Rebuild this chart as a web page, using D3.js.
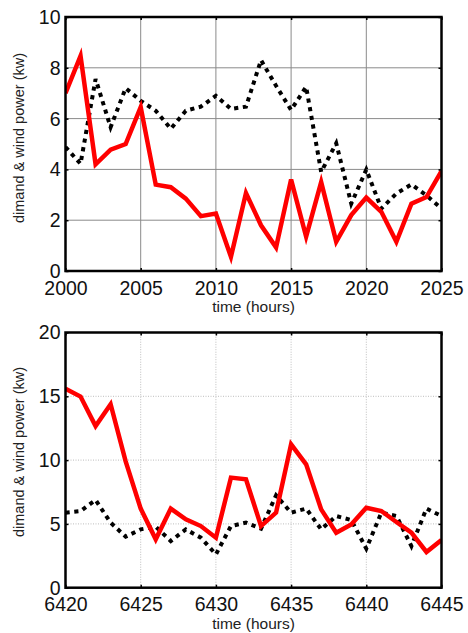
<!DOCTYPE html>
<html><head><meta charset="utf-8">
<script src="https://cdn.jsdelivr.net/npm/d3@7"></script>
<style>html,body{margin:0;padding:0;background:#fff;}svg{display:block;font-family:"Liberation Sans",Arial,sans-serif;}</style>
</head><body>
<svg id="c" width="468" height="633"></svg>
<script>
// ---- data ----
const hoursTop = d3.range(2000, 2026);
const demandTop = [7.0,8.47,4.2,4.78,5.0,6.45,3.4,3.3,2.85,2.16,2.26,0.56,3.07,1.8,0.93,3.6,1.35,3.5,1.15,2.2,2.89,2.33,1.15,2.65,2.91,3.93];
const windTop = [4.88,4.22,7.56,5.66,7.2,6.7,6.31,5.6,6.31,6.47,6.9,6.38,6.47,8.3,7.29,6.34,7.25,3.9,5.03,2.65,3.99,2.46,3.05,3.41,2.98,2.46];
const xTicksTop = [2000,2005,2010,2015,2020,2025];
const yTicksTop = [0,2,4,6,8,10];

const hoursBot = d3.range(6420, 6446);
const demandBot = [15.6,14.98,12.67,14.38,9.9,6.2,3.79,6.2,5.36,4.83,3.92,8.63,8.5,4.83,5.88,11.24,9.67,6.14,4.31,4.96,6.27,6.01,5.15,4.31,2.8,3.74];
const windBot = [5.88,6.0,6.87,5.1,4.0,4.57,4.78,3.66,4.57,3.92,2.61,4.83,5.1,4.63,7.24,5.88,6.2,4.57,5.62,5.3,3.06,5.88,5.62,3.26,6.2,5.62];
const xTicksBot = [6420,6425,6430,6435,6440,6445];
const yTicksBot = [0,5,10,15,20];

const yLabel = "dimand & wind power (kw)";
const xLabel = "time (hours)";

const svg = d3.select("#c");

function panel(cfg){
  const {x0,x1,y0,y1,xDom,yDom,xTicks,yTicks,hours,demand,wind,gridStyle,labelY} = cfg;
  const x = d3.scaleLinear().domain(xDom).range([x0,x1]);
  const y = d3.scaleLinear().domain(yDom).range([y0,y1]);
  const g = svg.append("g");
  // grid
  const gs = gridStyle==="solid" ? {c:"#8a8a8a",d:null,w:1} : {c:"#bdbdbd",d:"1,1.5",w:1};
  g.append("g").selectAll("line").data(xTicks.slice(1,-1)).join("line")
    .attr("x1",d=>x(d)).attr("x2",d=>x(d)).attr("y1",y0).attr("y2",y1)
    .attr("stroke",gs.c).attr("stroke-width",gs.w).attr("stroke-dasharray",gs.d);
  g.append("g").selectAll("line").data(yTicks.slice(1,-1)).join("line")
    .attr("y1",d=>y(d)).attr("y2",d=>y(d)).attr("x1",x0).attr("x2",x1)
    .attr("stroke",gs.c).attr("stroke-width",gs.w).attr("stroke-dasharray",gs.d);
  // clip
  const id = "clip"+Math.round(y0);
  svg.append("clipPath").attr("id",id).append("rect").attr("x",x0).attr("y",y1).attr("width",x1-x0).attr("height",y0-y1);
  const line = d3.line().x((d,i)=>x(hours[i])).y(d=>y(d));
  const lg = g.append("g").attr("clip-path",`url(#${id})`);
  lg.append("path").attr("d",line(wind)).attr("fill","none").attr("stroke","#000")
    .attr("stroke-width",4).attr("stroke-dasharray","4.2,4.6");
  lg.append("path").attr("d",line(demand)).attr("fill","none").attr("stroke","#ff0000")
    .attr("stroke-width",4.5).attr("stroke-linejoin","miter");
  // axes (inward ticks), using d3 axes
  const ax = (a)=>a.tickSizeInner(-3).tickSizeOuter(0).tickPadding(0);
  const bottom = g.append("g").attr("transform",`translate(0,${y0})`).call(ax(d3.axisBottom(x).tickValues(xTicks).tickFormat(d3.format("d"))));
  const top = g.append("g").attr("transform",`translate(0,${y1})`).call(ax(d3.axisTop(x).tickValues(xTicks)).tickFormat(""));
  const left = g.append("g").attr("transform",`translate(${x0},0)`).call(ax(d3.axisLeft(y).tickValues(yTicks)));
  const right = g.append("g").attr("transform",`translate(${x1},0)`).call(ax(d3.axisRight(y).tickValues(yTicks)).tickFormat(""));
  [bottom,top,left,right].forEach(a=>{
    a.select(".domain").remove();
    a.selectAll(".tick line").attr("stroke","#000").attr("stroke-width",1.5);
  });
  bottom.selectAll(".tick text").attr("y",23.5).attr("dy",0).attr("font-size",19.5).attr("fill","#111").attr("font-family","Liberation Sans, Arial, sans-serif");
  left.selectAll(".tick text").attr("x",-5).attr("dy","0.33em").attr("font-size",19.5).attr("fill","#111").attr("font-family","Liberation Sans, Arial, sans-serif");
  // frame
  g.append("rect").attr("x",x0).attr("y",y1).attr("width",x1-x0).attr("height",y0-y1)
    .attr("fill","none").attr("stroke","#000").attr("stroke-width",2.5);
  // labels
  g.append("text").attr("x",(x0+x1)/2).attr("y",y0+41).attr("text-anchor","middle")
    .attr("font-size",15.5).attr("fill","#222").text(xLabel);
  g.append("text").attr("transform",`translate(24,${labelY}) rotate(-90)`).attr("text-anchor","middle")
    .attr("font-size",14.5).attr("fill","#222").text(yLabel);
}

panel({x0:65.5,x1:441.5,y0:271,y1:17,xDom:[2000,2025],yDom:[0,10],xTicks:xTicksTop,yTicks:yTicksTop,
  hours:hoursTop,demand:demandTop,wind:windTop,gridStyle:"solid",labelY:138});
panel({x0:65.5,x1:441.5,y0:587.7,y1:332.5,xDom:[6420,6445],yDom:[0,20],xTicks:xTicksBot,yTicks:yTicksBot,
  hours:hoursBot,demand:demandBot,wind:windBot,gridStyle:"dotted",labelY:452});
</script>
</body></html>
